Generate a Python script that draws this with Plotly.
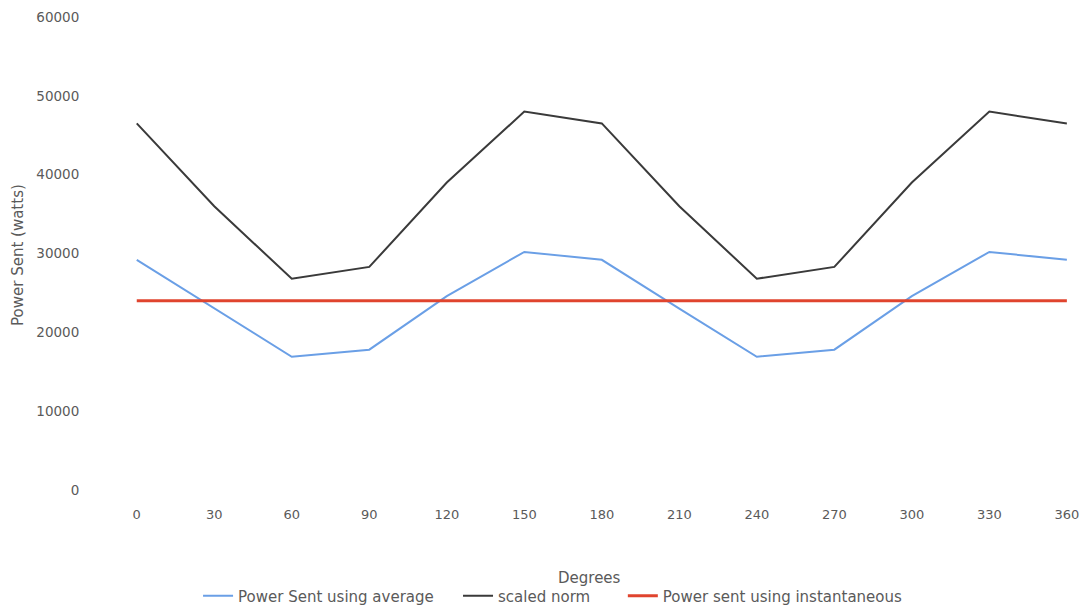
import plotly.graph_objects as go

# Angle in degrees
degrees = [0, 30, 60, 90, 120, 150, 180, 210, 240, 270, 300, 330, 360]

# Power sent (watts) for each method
power_average = [29200, 23000, 16900, 17800, 24600, 30200, 29200,
                 23000, 16900, 17800, 24600, 30200, 29200]
scaled_norm = [46500, 36000, 26800, 28300, 39000, 48000, 46500,
               36000, 26800, 28300, 39000, 48000, 46500]
power_instantaneous = [24000] * len(degrees)

y_ticks = [0, 10000, 20000, 30000, 40000, 50000, 60000]

font_family = "'DejaVu Sans', sans-serif"
text_grey = "#5a5a5a"

fig = go.Figure()
fig.add_trace(go.Scatter(x=degrees, y=power_average, mode="lines",
                         name="Power Sent using average", legend="legend",
                         line=dict(color="#6a9fe6", width=2)))
fig.add_trace(go.Scatter(x=degrees, y=scaled_norm, mode="lines",
                         name="scaled norm", legend="legend2",
                         line=dict(color="#3a3a3a", width=2)))
fig.add_trace(go.Scatter(x=degrees, y=power_instantaneous, mode="lines",
                         name="Power sent using instantaneous", legend="legend3",
                         line=dict(color="#e0442e", width=3)))


def legend_box(x):
    # One horizontal legend entry block placed along the bottom row
    return dict(orientation="h", x=x, xanchor="left",
                y=-0.224, yanchor="middle",
                font=dict(size=15, color=text_grey),
                bgcolor="rgba(0,0,0,0)", itemwidth=30)


fig.update_layout(
    width=1079, height=607,
    margin=dict(l=98, r=0, t=17, b=117, autoexpand=False),
    paper_bgcolor="white", plot_bgcolor="white",
    font=dict(family=font_family, size=12, color=text_grey),
    showlegend=True,
    legend=legend_box(0.102),
    legend2=legend_box(0.367),
    legend3=legend_box(0.535),
    xaxis=dict(range=[-15, 364.7], tickvals=degrees,
               ticktext=[str(d) for d in degrees],
               showgrid=False, zeroline=False, showline=False,
               ticks="outside", ticklen=12, tickcolor="rgba(0,0,0,0)",
               ticklabeloverflow="allow",
               tickfont=dict(size=13, color=text_grey)),
    yaxis=dict(range=[0, 60000], tickvals=y_ticks,
               ticktext=[str(v) for v in y_ticks],
               showgrid=False, zeroline=False, showline=False,
               ticks="outside", ticklen=15, tickcolor="rgba(0,0,0,0)",
               tickfont=dict(size=13.5, color=text_grey)),
    annotations=[
        dict(text="Degrees", xref="paper", yref="paper",
             x=0.5015, y=-0.186, xanchor="center", yanchor="middle",
             showarrow=False, font=dict(size=15, color=text_grey)),
        dict(text="Power Sent (watts)", xref="paper", yref="paper",
             x=-0.0815, y=0.497, xanchor="center", yanchor="middle",
             textangle=-90, showarrow=False,
             font=dict(size=15, color=text_grey)),
    ],
)

fig.write_html("out.html")
